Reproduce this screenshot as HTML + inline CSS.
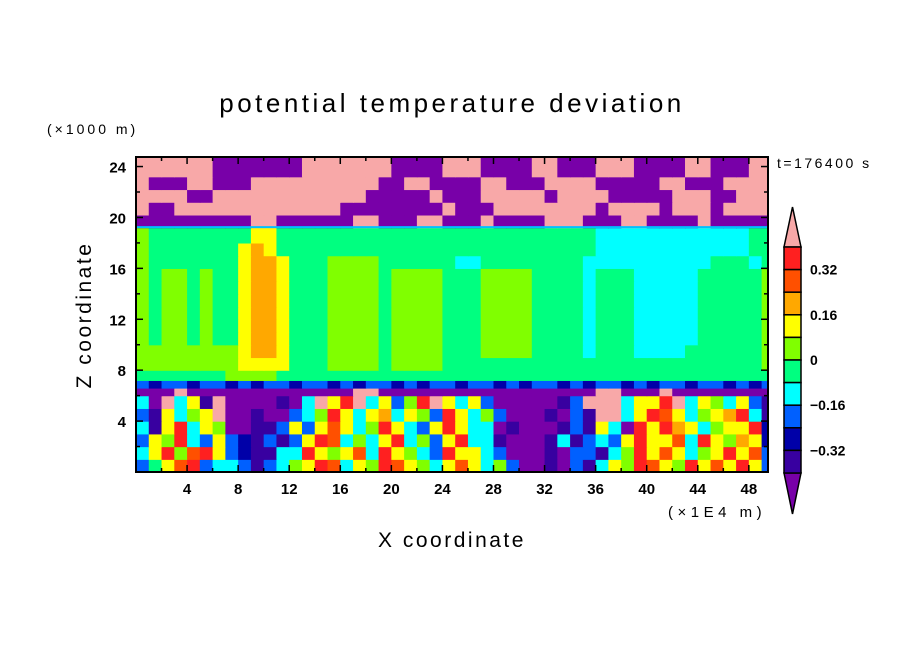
<!DOCTYPE html>
<html><head><meta charset="utf-8">
<style>
body{margin:0;background:#fff;}
svg text{font-family:"Liberation Sans",sans-serif;fill:#000;}
</style></head>
<body>
<svg id="chart" width="904" height="654" viewBox="0 0 904 654" xmlns="http://www.w3.org/2000/svg">
<defs><clipPath id="pc"><rect x="136" y="157" width="632" height="315"/></clipPath></defs>
<rect width="904" height="654" fill="#fff"/>
<text x="452" y="112" font-size="26" letter-spacing="3.5" text-anchor="middle">potential temperature deviation</text>
<text x="47" y="134" font-size="14" letter-spacing="3">(×1000 m)</text>
<text x="777" y="168" font-size="14" letter-spacing="2.5">t=176400 s</text>
<text x="668" y="517" font-size="15" letter-spacing="4.5">(×1E4 m)</text>
<text x="452" y="547" font-size="21" letter-spacing="2.5" text-anchor="middle">X coordinate</text>
<text x="0" y="0" font-size="21" letter-spacing="2.5" text-anchor="middle" transform="translate(91,315) rotate(-90)">Z coordinate</text>
<g id="field" clip-path="url(#pc)"></g>
<g id="axes"></g>
<g id="cbar"></g>
</svg>
<script>
// Data
const colorLevels = ['a','b','c','d','e','f','g','h','i','j','k','p'];
const levelColors = ['#7800a8','#3800a0','#0000a8','#0060ff','#00ffff','#00ff80','#80ff00','#ffff00','#ffa800','#ff5000','#ff2020','#f8a8a8'];
const cbarLabels = ['0.32','0.16','0','−0.16','−0.32'];
const cbarLabelIdx = [1,3,5,7,9];
const xTicks = [4,8,12,16,20,24,28,32,36,40,44,48];
const yTicks = [4,8,12,16,20,24];
const rowEdges = [0,1,2,3,4,5,6,6.6,7.2,8,9,10,11,12,13,14,15,16,17,18,19.2,20.2,21.2,22.2,23.2,24.75];
const midRow = "gfggfgffhiihfffggggfggggfffggggffffefffeeeeefffffg";
const rows = [
"dfhjkdeedbdeghkjehgkjhgehjhegdaabadbehgkjhgkhjhkhd",
"ehkgjkhdcbbeekhghjekhgedkhhedaaabaddbegkhjheghkhjd",
"dhgkedhdcbdbdhkjegehkegdhkeebaaabebdedhkhhjekhgihc",
"ebhkehgaabbdhdhjhegkhedhkheeabaaabdbheakhkiheghhkc",
"dbheghpaabaadegkhehiehgdkhegdaaabadbppehkjheghikeb",
"eapehbpaaaabaephkpehdgkphehdaaaaabdpppehhkpehgehdb",
"aaapaaaaaaaaaaaaappaaaaaaaaaaaaaaaaappaaapaaaaaaaa",
"dcddcddcdcddcddcdcddcdcddcddcdcddcdcddcdcddcddcdcd",
"fffffffggggfffffffffffffffffffffffffffffffffffffff",
"gggggggghhhhfffggggfggggfffffffffffffffffffffffffg",
"gggggggghiihfffggggfggggfffggggffffefffeeeeffffffg",
midRow, midRow, midRow, midRow, midRow, midRow,
"gfffffffhiihfffggggffffffeeffffffffeeeeeeeeeefffef",
"gfffffffhihfffffffffffffffffffffffffeeeeeeeeeeeefff",
"gffffffffhhfffffffffffffffffffffffffeeeeeeeeeeeeffff",
"aaaaaaaaappaaaaaappaaappaaapaaaapppaaappaaaapaaaaa",
"paapppppppppppppaaaaaaaapaaappppppppappppapppapppppp",
"ppppaappppppppppppaaaaapaaapppppappppaaaaapppaapppp",
"paaappaaappppppppppaappaaaappaaappppaaaaappaaapppp",
"ppppppaaaaaaapppppppaaaapppaaaappaaapppaaaappaaapp"
];
const NS='http://www.w3.org/2000/svg';
const X0=136,X1=768,Y0=472,Y1=157,XMAX=49.5,ZMAX=24.75;
const sx=v=>X0+v/XMAX*(X1-X0);
const sz=v=>Y0-v/ZMAX*(Y0-Y1);
const field=document.getElementById('field');
for(let r=0;r<rows.length;r++){
  const s=rows[r];
  const yTop=sz(rowEdges[r+1]), yBot=sz(rowEdges[r]);
  for(let i=0;i<s.length;i++){
    const li=colorLevels.indexOf(s[i]); if(li<0) continue;
    const el=document.createElementNS(NS,'rect');
    el.setAttribute('x',sx(i)); el.setAttribute('y',yTop);
    el.setAttribute('width',sx(i+1)-sx(i)+0.6); el.setAttribute('height',yBot-yTop+0.6);
    el.setAttribute('fill',levelColors[li]);
    
    
    field.appendChild(el);
  }
}
const tl=document.createElementNS(NS,'rect');
tl.setAttribute('x',X0);tl.setAttribute('y',sz(19.2)-1.5);tl.setAttribute('width',X1-X0);tl.setAttribute('height',2);tl.setAttribute('fill','#00c0ff');


field.appendChild(tl);
// axes
const axes=document.getElementById('axes');
function line(x1,y1,x2,y2,w,name){const l=document.createElementNS(NS,'line');l.setAttribute('x1',x1);l.setAttribute('y1',y1);l.setAttribute('x2',x2);l.setAttribute('y2',y2);l.setAttribute('stroke','#000');l.setAttribute('stroke-width',w);


axes.appendChild(l);}
function text(x,y,t,anchor,size,name,parent){const e=document.createElementNS(NS,'text');e.setAttribute('x',x);e.setAttribute('y',y);e.setAttribute('text-anchor',anchor);e.setAttribute('font-size',size);e.setAttribute('font-weight','bold');e.textContent=t;


parent.appendChild(e);}
const frame=document.createElementNS(NS,'rect');
frame.setAttribute('x',X0);frame.setAttribute('y',Y1);frame.setAttribute('width',X1-X0);frame.setAttribute('height',Y0-Y1);frame.setAttribute('fill','none');frame.setAttribute('stroke','#000');frame.setAttribute('stroke-width',2);


axes.appendChild(frame);
for(let v=2;v<XMAX;v+=2){const x=sx(v),L=(v%4===0)?7:4;line(x,Y0,x,Y0-L,1.5,'x-tick');line(x,Y1,x,Y1+L,1.5,'x-tick-top');}
for(let v=2;v<ZMAX;v+=2){const y=sz(v),L=(v%4===0)?7:4;line(X0,y,X0+L,y,1.5,'y-tick');line(X1,y,X1-L,y,1.5,'y-tick-right');}
xTicks.forEach(v=>text(sx(v),Y0+22,String(v),'middle',15,'x-tick-label',axes));
yTicks.forEach(v=>text(X0-10,sz(v)+6,String(v),'end',15,'y-tick-label',axes));
// colorbar
const cb=document.getElementById('cbar');
const CX=784,CW=17,CT=247,CB=473,bh=(CB-CT)/10;
function poly(pts,fill,name){const p=document.createElementNS(NS,'polygon');p.setAttribute('points',pts);p.setAttribute('fill',fill);p.setAttribute('stroke','#000');p.setAttribute('stroke-width',1.5);


cb.appendChild(p);}
poly(`${CX},${CT} ${CX+CW},${CT} ${CX+CW/2},207`,levelColors[11],'colorbar-top-arrow');
poly(`${CX},${CB} ${CX+CW},${CB} ${CX+CW/2},514`,levelColors[0],'colorbar-bottom-arrow');
for(let i=0;i<10;i++){
  const r=document.createElementNS(NS,'rect');
  r.setAttribute('x',CX);r.setAttribute('y',CT+i*bh);r.setAttribute('width',CW);r.setAttribute('height',bh);
  r.setAttribute('fill',levelColors[10-i]);r.setAttribute('stroke','#000');r.setAttribute('stroke-width',1.5);
  
  
  cb.appendChild(r);
}
cbarLabels.forEach((t,k)=>text(810,CT+cbarLabelIdx[k]*bh+5,t,'start',14,'colorbar-label',cb));
</script>
</body></html>
